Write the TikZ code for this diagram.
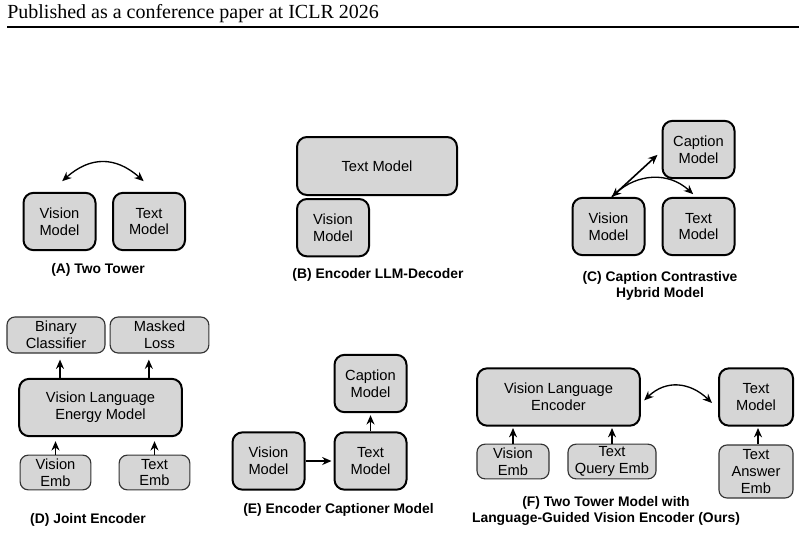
\documentclass[tikz,border=0pt]{standalone}
\usepackage{fontspec}
\setmainfont{Liberation Serif}
\newfontfamily\arialfont{Liberation Sans}
\usepackage{xcolor}
\usepackage{tikz}
\usetikzlibrary{arrows.meta}

\definecolor{boxgray}{RGB}{214,214,214}

\begin{document}
\begin{tikzpicture}[
        x=0.75pt, y=-0.75pt,
        >=Stealth,
        model/.style={
            draw=black,
            line width=1.5pt,
            rounded corners=7.5pt,
            fill=boxgray,
            align=center,
            inner sep=1pt,
            minimum width=54pt,
            minimum height=43pt,
            font=\arialfont\fontsize{11}{12.5}\selectfont
        },
        emb/.style={
            draw=black!80,
            line width=0.85pt,
            rounded corners=6pt,
            fill=boxgray,
            align=center,
            inner sep=1pt,
            minimum width=53pt,
            minimum height=26pt,
            font=\arialfont\fontsize{11}{12.5}\selectfont
        },
        subcap/.style={
            align=center,
            inner sep=0pt,
            font=\arialfont\bfseries\fontsize{10.4}{12}\selectfont
        },
        flow/.style={-{Stealth[length=7pt,width=6pt]}, line width=1.2pt},
        twoway/.style={{Stealth[length=7pt,width=6pt]}-{Stealth[length=7pt,width=6pt]}, line width=1pt}
    ]
        \useasboundingbox (0,0) rectangle (805,532);

        % Kopfzeile
        \node[anchor=base west, inner sep=0pt, font=\fontsize{15}{18}\selectfont] (hdr) at (7,18) {Published as a conference paper at ICLR 2026};
        \draw[line width=0.8pt] (7,27) -- (799,27);

        % (A) Two Tower
        \node[model] (tw-vis) at (59.5,221.5) {Vision\\Model};
        \node[model] (tw-txt) at (149,221.5) {Text\\Model};
        \node[subcap] (cap-a) at (98,270) {(A) Two Tower};
        \draw[twoway] ([shift={(2pt,8pt)}]tw-vis.north) .. controls +(28,-25) and +(-28,-25) .. ([shift={(-4pt,8pt)}]tw-txt.north);

        % (B) Encoder LLM-Decoder
        \node[model, minimum width=120pt, minimum height=43.5pt] (ed-txt) at (377,166) {Text Model};
        \node[model, anchor=north west] (ed-vis) at ([yshift=-1.5pt]ed-txt.south west) {Vision\\Model};
        \node[subcap] (cap-b) at (378,275) {(B) Encoder LLM-Decoder};

        % (C) Caption Contrastive Hybrid Model
        \node[model] (hy-cap) at (698.5,149.5) {Caption\\Model};
        \node[model] (hy-vis) at (608.5,226.5) {Vision\\Model};
        \node[model] (hy-txt) at (698.5,226.5) {Text\\Model};
        \node[subcap] (cap-c) at (660,286) {(C) Caption Contrastive\\Hybrid Model};
        \draw[flow] ([xshift=2.5pt]hy-vis.north) -- ([shift={(-3pt,-4pt)}]hy-cap.west);
        \draw[twoway] ([xshift=2.5pt]hy-vis.north) .. controls +(25,-23) and +(-25,-23) .. ([shift={(-4pt,2pt)}]hy-txt.north);

        % (D) Joint Encoder
        \node[emb, minimum width=73.5pt, minimum height=27pt] (je-bin) at (56,335) {Binary\\Classifier};
        \node[emb, minimum width=74pt, minimum height=27pt] (je-mlm) at (159.5,335) {Masked\\Loss};
        \node[model, minimum width=122pt] (je-enc) at (100.5,407.5) {Vision Language\\Energy Model};
        \node[emb] (je-vis) at (55.5,472.5) {Vision\\Emb};
        \node[emb] (je-txt) at (154.5,472.5) {Text\\Emb};
        \node[subcap] (cap-d) at (88,520) {(D) Joint Encoder};

        \draw[flow, shorten >=4.5pt] ([xshift=3pt]je-bin.south |- je-enc.north) -- ([xshift=3pt]je-bin.south);
        \draw[flow, shorten >=4.5pt] ([xshift=-8pt]je-mlm.south |- je-enc.north) -- ([xshift=-8pt]je-mlm.south);
        \draw[flow, shorten >=3pt] (je-vis.north) -- (je-vis.north |- je-enc.south);
        \draw[flow, shorten >=3pt] (je-txt.north) -- (je-txt.north |- je-enc.south);

        % (E) Encoder Captioner Model
        \node[model] (ec-cap) at (370.5,383.5) {Caption\\Model};
        \node[model] (ec-vis) at (268.5,461) {Vision\\Model};
        \node[model] (ec-txt) at (370.5,461) {Text\\Model};
        \node[subcap] (cap-e) at (338.5,510) {(E) Encoder Captioner Model};

        \draw[flow, shorten >=1.5pt] (ec-vis) -- (ec-txt);
        \draw[flow, shorten >=1.5pt] (ec-txt) -- (ec-cap);

        % (F) Two Tower Model with Language-Guided Vision Encoder (Ours)
        \node[model, minimum width=122pt] (lg-enc) at (558.5,397) {Vision Language\\Encoder};
        \node[model, minimum width=55.5pt] (lg-txt) at (756,397) {Text\\Model};
        \node[emb, minimum width=54pt] (lg-vis) at (513,461.5) {Vision\\Emb};
        \node[emb, minimum width=66pt] (lg-qry) at (612,461.5) {Text\\Query Emb};
        \node[emb, minimum width=55.5pt, minimum height=39.75pt] (lg-ans) at (756,471.5) {Text\\Answer\\Emb};
        \node[subcap] (cap-f) at (606,511) {(F) Two Tower Model with\\Language-Guided Vision Encoder (Ours)};

        \draw[flow, shorten >=1pt] (lg-vis.north) -- (lg-vis.north |- lg-enc.south);
        \draw[flow, shorten >=1pt] (lg-qry.north) -- (lg-qry.north |- lg-enc.south);
        \draw[flow, shorten >=1pt] ([xshift=1.5pt]lg-ans.north) -- ([xshift=1.5pt]lg-ans.north |- lg-txt.south);
        \draw[twoway] ([shift={(2.5pt,-2.5pt)}]lg-enc.east) .. controls +(22,-21) and +(-22,-21) .. ([shift={(-4.5pt,-4.5pt)}]lg-txt.west);
    \end{tikzpicture}
\end{document}
